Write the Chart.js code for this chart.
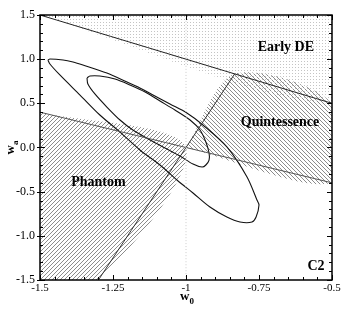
<!DOCTYPE html>
<html>
<head>
<meta charset="utf-8">
<script src="https://cdn.jsdelivr.net/npm/chart.js@4.4.1/dist/chart.umd.min.js"></script>
<style>
	body { margin: 0; background: #fff; }
</style>
</head>
<body>
<canvas id="w0wa-chart" width="346" height="312"></canvas>
<script>
// tick labels
var xTickLabels = ['-1.5', '-1.25', '-1', '-0.75', '-0.5'];
var yTickLabels = ['-1.5', '-1.0', '-0.5', '0.0', '0.5', '1.0', '1.5'];

// region boundaries (w0, wa)
var earlyDE = [[-1.5, 1.5], [-0.5, 0.5], [-0.5, 1.5], [-1.5, 1.5]];
var quintessence = [[-1, 0], [-0.8333, 0.8333], [-0.5, 0.5], [-0.5, -0.4], [-1, 0]];
var phantom = [[-1.5, 0.4], [-1, 0], [-1.3, -1.5], [-1.5, -1.5], [-1.5, 0.4]];
var lineEarly = [[-1.5, 1.5], [-0.5, 0.5]];
var linePhantom = [[-1.5, 0.4], [-0.5, -0.4]];
var lineSteep = [[-1.3, -1.5], [-0.8333, 0.8333]];
var lineLCDM = [[-1, -1.5], [-1, 1.5]];

// contours
var outerW0 = [-1.473, -1.466, -1.421, -1.387, -1.353, -1.271, -1.202, -1.158, -1.113, -1.055, -0.997, -0.942, -0.860, -0.791, -0.757, -0.750, -0.760, -0.774, -0.815, -0.860, -0.918, -0.976, -1.031, -1.089, -1.158, -1.226, -1.295, -1.363, -1.432, -1.466, -1.473];
var outerWa = [0.991, 1.002, 0.991, 0.968, 0.934, 0.843, 0.741, 0.674, 0.594, 0.492, 0.391, 0.255, 0.006, -0.334, -0.594, -0.651, -0.787, -0.843, -0.843, -0.787, -0.674, -0.515, -0.368, -0.198, -0.028, 0.175, 0.368, 0.594, 0.821, 0.945, 0.991];
var innerW0 = [-1.339, -1.329, -1.295, -1.243, -1.192, -1.140, -1.089, -1.038, -0.986, -0.952, -0.932, -0.921, -0.921, -0.932, -0.945, -0.976, -1.021, -1.072, -1.123, -1.182, -1.226, -1.271, -1.312, -1.336, -1.339];
var innerWa = [0.787, 0.809, 0.809, 0.775, 0.708, 0.628, 0.526, 0.425, 0.311, 0.198, 0.062, -0.062, -0.142, -0.198, -0.221, -0.187, -0.096, -0.006, 0.085, 0.198, 0.311, 0.458, 0.606, 0.719, 0.787];

var regionLabels = [
	{ text: 'Early DE', x: -0.658, y: 1.138 },
	{ text: 'Quintessence', x: -0.678, y: 0.289 },
	{ text: 'Phantom', x: -1.300, y: -0.391 },
	{ text: 'C2', x: -0.555, y: -1.342 }
];

var serif = "'Liberation Serif', 'Times New Roman', serif";

function pts(arr) {
	return arr.map(function(p) { return { x: p[0], y: p[1] }; });
}
function zip(xs, ys) {
	return xs.map(function(x, i) { return { x: x, y: ys[i] }; });
}

// crisp 1px diagonal hatch, 4px apart
function hatch(dir) {
	var c = document.createElement('canvas');
	c.width = 4; c.height = 4;
	var g = c.getContext('2d');
	g.fillStyle = '#8c8c8c';
	for (var i = 0; i < 4; i++) {
		g.fillRect(i, dir > 0 ? 3 - i : i, 1, 1);
	}
	return g.createPattern(c, 'repeat');
}
function dots() {
	var c = document.createElement('canvas');
	c.width = 3; c.height = 3;
	var g = c.getContext('2d');
	g.fillStyle = '#c4c4c4';
	g.fillRect(1, 1, 1, 1);
	return g.createPattern(c, 'repeat');
}

function fillSet(data, bg) {
	return { data: pts(data), showLine: true, fill: 'shape', backgroundColor: bg, borderWidth: 0, borderColor: 'rgba(0,0,0,0)', pointRadius: 0, order: 10 };
}
function lineSet(data, color, width, dash) {
	return { data: data, showLine: true, fill: false, borderColor: color, borderWidth: width, borderDash: dash || [], pointRadius: 0, order: 2 };
}

// frame, inside ticks, texts
var decor = {
	id: 'decor',
	afterDraw: function(chart) {
		var ctx = chart.ctx, a = chart.chartArea;
		var sx = chart.scales.x, sy = chart.scales.y;
		ctx.save();
		ctx.strokeStyle = '#000';
		ctx.lineWidth = 1;
		ctx.beginPath();
		var v, p, major;
		for (v = -1.5; v <= -0.5 + 1e-9; v += 0.05) {
			p = Math.round(sx.getPixelForValue(v)) + 0.5;
			major = Math.abs(v / 0.25 - Math.round(v / 0.25)) < 1e-6;
			var l = major ? 5 : 3;
			ctx.moveTo(p, a.bottom); ctx.lineTo(p, a.bottom - l);
			ctx.moveTo(p, a.top); ctx.lineTo(p, a.top + l);
		}
		for (v = -1.5; v <= 1.5 + 1e-9; v += 0.1) {
			p = Math.round(sy.getPixelForValue(v)) + 0.5;
			major = Math.abs(v / 0.5 - Math.round(v / 0.5)) < 1e-6;
			var m = major ? 5 : 3;
			ctx.moveTo(a.left - (major ? 3 : 0), p); ctx.lineTo(a.left + m, p);
			ctx.moveTo(a.right, p); ctx.lineTo(a.right - m, p);
		}
		ctx.stroke();
		ctx.lineWidth = 1.5;
		ctx.strokeRect(a.left, a.top, a.right - a.left, a.bottom - a.top);

		ctx.fillStyle = '#000';
		ctx.textAlign = 'center';
		ctx.textBaseline = 'middle';
		ctx.font = 'bold 14px ' + serif;
		regionLabels.forEach(function(r) {
			ctx.fillText(r.text, sx.getPixelForValue(r.x), sy.getPixelForValue(r.y));
		});

		// axis titles with subscripts
		ctx.textAlign = 'left';
		ctx.textBaseline = 'alphabetic';
		ctx.font = 'bold 13px ' + serif;
		var ww = ctx.measureText('w').width;
		var cx = (a.left + a.right) / 2;
		ctx.fillText('w', cx - 6, 300);
		ctx.font = 'bold 9px ' + serif;
		ctx.fillText('0', cx - 6 + ww, 304);

		ctx.translate(14, (a.top + a.bottom) / 2);
		ctx.rotate(-Math.PI / 2);
		ctx.font = 'bold 13px ' + serif;
		ctx.fillText('w', -7, 0);
		ctx.font = 'bold 9px ' + serif;
		ctx.fillText('a', -7 + ww, 4);
		ctx.restore();
	}
};

var ctx = document.getElementById('w0wa-chart').getContext('2d');
var chart = new Chart(ctx, {
	type: 'scatter',
	data: {
		datasets: [
			fillSet(earlyDE, dots()),
			fillSet(quintessence, hatch(-1)),
			fillSet(phantom, hatch(1)),
			lineSet(pts(lineLCDM), '#cccccc', 1, [1, 2]),
			lineSet(pts(lineEarly), '#222', 1),
			lineSet(pts(linePhantom), '#555', 1),
			lineSet(pts(lineSteep), '#333', 1),
			lineSet(zip(outerW0, outerWa), '#111', 1.1),
			lineSet(zip(innerW0, innerWa), '#111', 1.1)
		]
	},
	options: {
		responsive: false,
		animation: false,
		layout: { padding: { top: 15, right: 14, left: 0, bottom: 0 } },
		plugins: { legend: { display: false }, tooltip: { enabled: false } },
		elements: { line: { tension: 0.3 } },
		scales: {
			x: {
				type: 'linear', min: -1.5, max: -0.5,
				grid: { display: false, drawTicks: false },
				border: { display: false },
				ticks: {
					stepSize: 0.25, padding: 2, color: '#000',
					font: { family: serif, size: 11 },
					callback: function(v, i) { return xTickLabels[i]; }
				},
				afterFit: function(s) { s.height = 32; }
			},
			y: {
				type: 'linear', min: -1.5, max: 1.5,
				grid: { display: false, drawTicks: false },
				border: { display: false },
				ticks: {
					stepSize: 0.5, padding: 5, color: '#000',
					font: { family: serif, size: 12 },
					callback: function(v, i) { return yTickLabels[i]; }
				},
				afterFit: function(s) { s.width = 40; }
			}
		}
	},
	plugins: [decor]
});
</script>
</body>
</html>
